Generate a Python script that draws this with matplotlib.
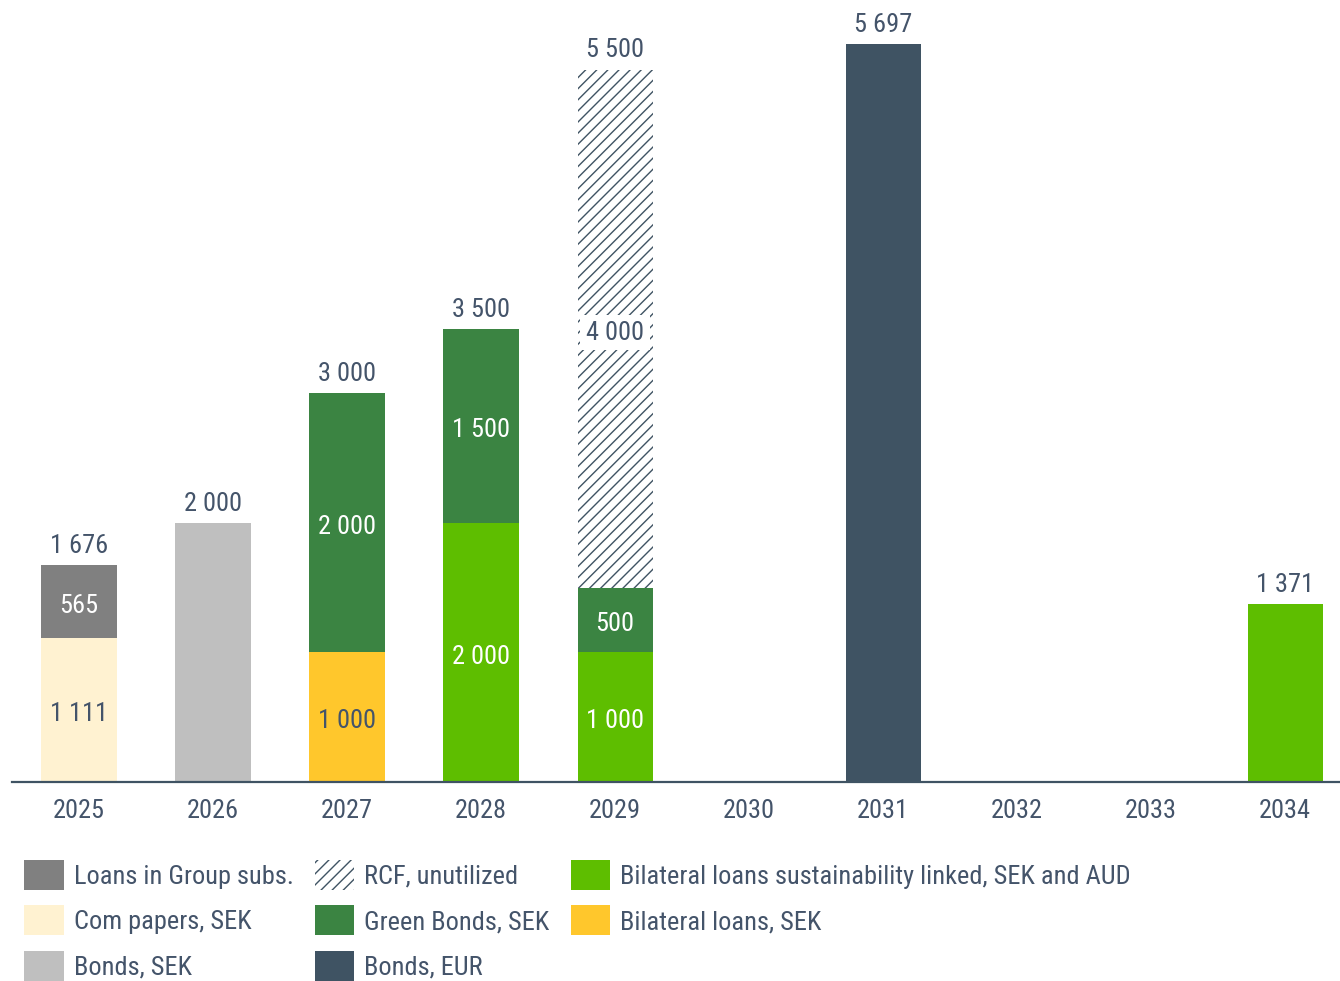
import numpy as np
import matplotlib.pyplot as plt
from matplotlib.patches import Patch

plt.rcParams['font.family'] = ['Roboto Condensed', 'DejaVu Sans']

TXT = '#44546A'

years = ['2025', '2026', '2027', '2028', '2029', '2030', '2031', '2032', '2033', '2034']

# series values per year (bottom to top in stacking order)
com_papers = [1111, 0, 0, 0, 0, 0, 0, 0, 0, 0]
loans_group = [565, 0, 0, 0, 0, 0, 0, 0, 0, 0]
bonds_sek = [0, 2000, 0, 0, 0, 0, 0, 0, 0, 0]
bilateral_sek = [0, 0, 1000, 0, 0, 0, 0, 0, 0, 0]
bilateral_sl = [0, 0, 0, 2000, 1000, 0, 0, 0, 0, 1371]
green_bonds = [0, 0, 2000, 1500, 500, 0, 0, 0, 0, 0]
rcf = [0, 0, 0, 0, 4000, 0, 0, 0, 0, 0]
bonds_eur = [0, 0, 0, 0, 0, 0, 5697, 0, 0, 0]

# (name, values, color, text color inside bar)
series = [
    ('Com papers, SEK', com_papers, '#FFF2D1', TXT),
    ('Loans in Group subs.', loans_group, '#808080', 'white'),
    ('Bonds, SEK', bonds_sek, '#BFBFBF', TXT),
    ('Bilateral loans, SEK', bilateral_sek, '#FFC72C', TXT),
    ('Bilateral loans sustainability linked, SEK and AUD', bilateral_sl, '#5EBE00', 'white'),
    ('Green Bonds, SEK', green_bonds, '#3B8442', 'white'),
    ('RCF, unutilized', rcf, None, TXT),
    ('Bonds, EUR', bonds_eur, '#3F5363', 'white'),
]

FS = 19

def fmt(v):
    return f'{v:,}'.replace(',', ' ')

fig = plt.figure(figsize=(13.4, 9.81), dpi=100)
ax = fig.add_axes([12 / 1340, 199 / 981, 1 - 12 / 1340, 1 - 199 / 981])

x = np.arange(len(years))
w = 0.56
bottom = np.zeros(len(years))
nseg = np.zeros(len(years))
for name, vals, col, tc in series:
    nseg += np.array(vals) > 0
for name, vals, col, tc in series:
    vals = np.array(vals, dtype=float)
    if col is None:
        ax.bar(x, vals, w, bottom=bottom, color='white', edgecolor='#3F5363',
               hatch='///', linewidth=0)
    else:
        ax.bar(x, vals, w, bottom=bottom, color=col, linewidth=0)
    for i, v in enumerate(vals):
        if v > 0 and nseg[i] > 1:
            kw = {}
            if col is None:
                kw['bbox'] = dict(facecolor='white', edgecolor='none', pad=4)
            ax.annotate(fmt(int(v)), (x[i], bottom[i] + v / 2), xytext=(0, -3),
                        textcoords='offset points', ha='center', va='center',
                        color=tc, fontsize=FS, **kw)
    bottom += vals

for i, t in enumerate(bottom):
    if t > 0:
        ax.text(x[i], t + 55, fmt(int(t)), ha='center', va='bottom', color=TXT, fontsize=FS)

ax.set_xlim(-0.5, 9.41)
ax.set_ylim(0, 6037)
ax.set_xticks(x)
ax.set_xticklabels(years, fontsize=FS, color=TXT)
ax.tick_params(axis='x', length=0, pad=12)
ax.set_yticks([])
for s in ['top', 'left', 'right']:
    ax.spines[s].set_visible(False)
ax.spines['bottom'].set_color('#3F5363')
ax.spines['bottom'].set_linewidth(1.6)

handles = [
    Patch(facecolor='#808080', label='Loans in Group subs.'),
    Patch(facecolor='#FFF2D1', label='Com papers, SEK'),
    Patch(facecolor='#BFBFBF', label='Bonds, SEK'),
    Patch(facecolor='white', edgecolor='#3F5363', hatch='///', linewidth=0, label='RCF, unutilized'),
    Patch(facecolor='#3B8442', label='Green Bonds, SEK'),
    Patch(facecolor='#3F5363', label='Bonds, EUR'),
    Patch(facecolor='#5EBE00', label='Bilateral loans sustainability linked, SEK and AUD'),
    Patch(facecolor='#FFC72C', label='Bilateral loans, SEK'),
]
leg = fig.legend(handles=handles, loc='upper left', bbox_to_anchor=(24 / 1340, 1 - 860 / 981),
                 ncol=3, frameon=False, fontsize=FS, borderaxespad=0, borderpad=0,
                 handlelength=1.5, handleheight=1.37, handletextpad=0.38,
                 labelspacing=0.58, columnspacing=0.8)
for t in leg.get_texts():
    t.set_color(TXT)

fig.savefig('out.png', dpi=100)
